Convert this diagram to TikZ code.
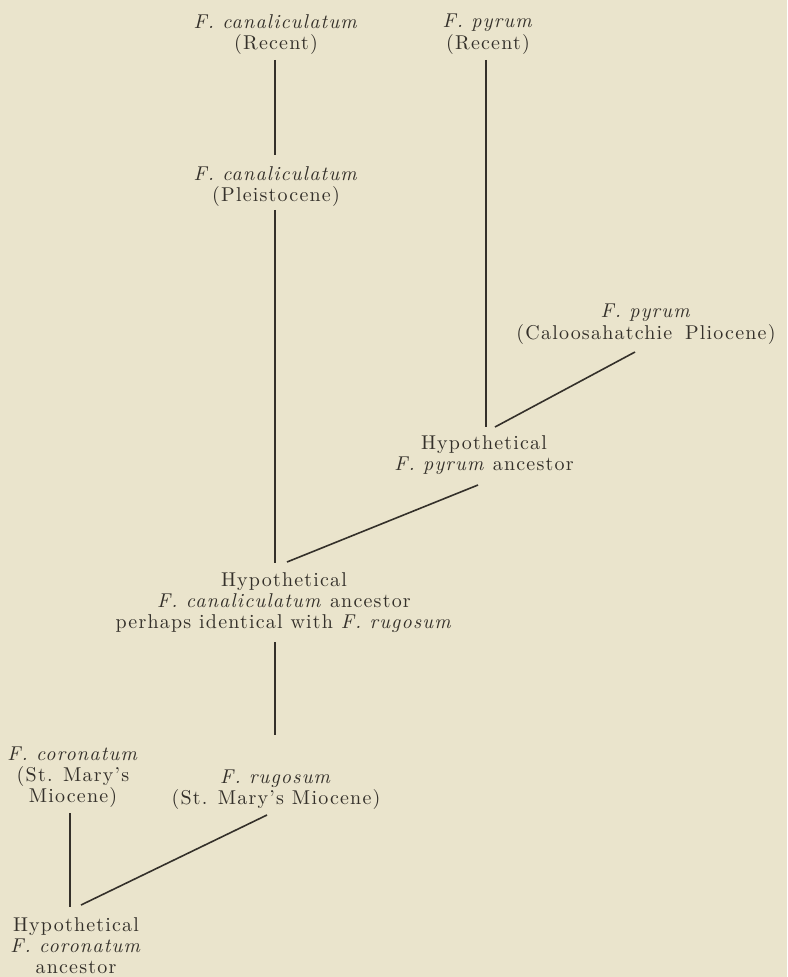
\documentclass[tikz,border=0pt]{standalone}
\usepackage{fontspec}
\setmainfont{Latin Modern Roman}[LetterSpace=6]
\definecolor{paper}{RGB}{234,228,204}
\definecolor{ink}{RGB}{52,48,42}
\begin{document}
\begin{tikzpicture}[x=0.5pt,y=-0.5pt,
  lbl/.style={align=center,inner sep=0pt,anchor=north,text=ink,
    font=\fontsize{10}{10.6}\selectfont},
  link/.style={draw=ink,line width=0.8pt}]
\fill[paper] (0,0) rectangle (787,977);
\useasboundingbox (0,0) rectangle (787,977);
% nodes
\node[lbl] (cr) at (276,14) {\textit{F. canaliculatum}\\(Recent)};
\node[lbl] (pr) at (488,14) {\textit{F. pyrum}\\(Recent)};
\node[lbl] (cp) at (276,166) {\textit{F. canaliculatum}\\(Pleistocene)};
\node[lbl] (pc) at (646,304) {\textit{F. pyrum}\\(Caloosahatchie\hspace{0.25em} Pliocene)};
\node[lbl] (pa) at (484,435) {Hypothetical\\\textit{F. pyrum} ancestor};
\node[lbl] (ca) at (284,572) {Hypothetical\\\textit{F. canaliculatum} ancestor\\perhaps identical with \textit{F. rugosum}};
\node[lbl] (co) at (73,746) {\textit{F. coronatum}\\(St. Mary's\\Miocene)};
\node[lbl] (ru) at (276,769) {\textit{F. rugosum}\\(St. Mary's Miocene)};
\node[lbl] (ha) at (76,917) {Hypothetical\\\textit{F. coronatum}\\ancestor};
% connector ends
\coordinate (cr-b) at (275,60);   \coordinate (cp-t) at (275,155);
\coordinate (pr-b) at (486,60);   \coordinate (pa-t1) at (486,427);
\coordinate (cp-b) at (275,210);  \coordinate (ca-t1) at (275,563);
\coordinate (pc-b) at (635,352);  \coordinate (pa-t2) at (495,427);
\coordinate (pa-b) at (478,485);  \coordinate (ca-t2) at (287,562);
\coordinate (ca-b) at (275,642);  \coordinate (ru-t) at (275,735);
\coordinate (ru-b) at (267,815);  \coordinate (ha-t2) at (81,905);
\coordinate (co-b) at (70,813);   \coordinate (ha-t1) at (70,907);
% connectors
\draw[link] (cr-b) -- (cp-t);
\draw[link] (pr-b) -- (pa-t1);
\draw[link] (cp-b) -- (ca-t1);
\draw[link] (pc-b) -- (pa-t2);
\draw[link] (pa-b) -- (ca-t2);
\draw[link] (ca-b) -- (ru-t);
\draw[link] (ru-b) -- (ha-t2);
\draw[link] (co-b) -- (ha-t1);
\end{tikzpicture}
\end{document}
